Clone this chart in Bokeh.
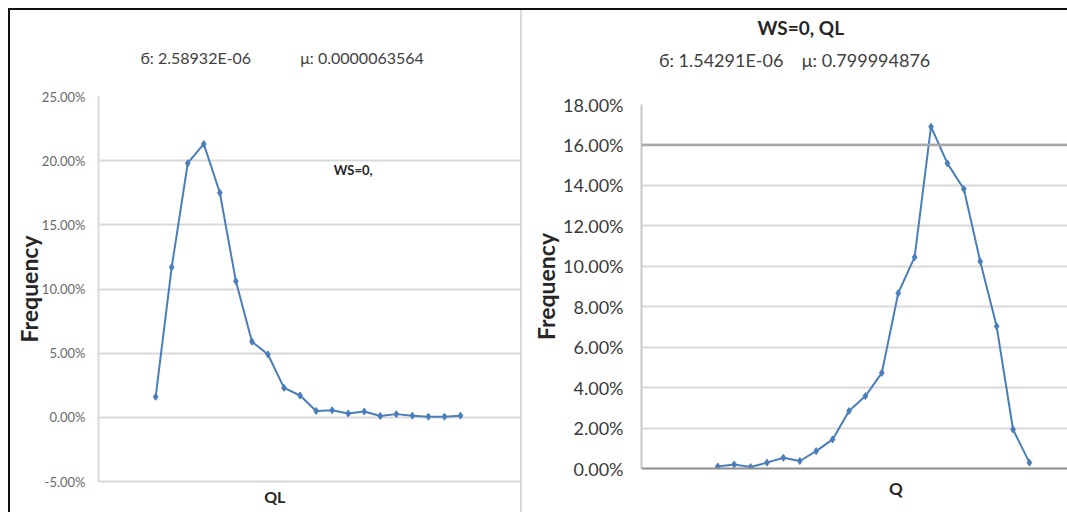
from bokeh.plotting import figure
from bokeh.models import (FixedTicker, NumeralTickFormatter, Label, Span,
                          Spacer, Range1d, LinearAxis)
from bokeh.layouts import row, column
from bokeh.embed import file_html
from bokeh.resources import INLINE

# ---------------- data ----------------
bins = list(range(1, 21))
left_freq = [0.016, 0.117, 0.198, 0.213, 0.175, 0.106, 0.059, 0.049, 0.023, 0.017,
             0.005, 0.0055, 0.003, 0.0045, 0.001, 0.0025, 0.0013, 0.0005, 0.0005, 0.0013]
right_freq = [0.0010, 0.0020, 0.0007, 0.0029, 0.0053, 0.0037, 0.0086, 0.0144, 0.0284, 0.0358,
              0.0473, 0.0867, 0.1045, 0.1690, 0.1509, 0.1382, 0.1024, 0.0703, 0.0193, 0.0029]
left_ticks = [-0.05, 0.0, 0.05, 0.10, 0.15, 0.20, 0.25]
right_ticks = [0.0, 0.02, 0.04, 0.06, 0.08, 0.10, 0.12, 0.14, 0.16, 0.18]
left_stats = "б: 2.58932E-06" + "\u00a0" * 12 + "μ: 0.0000063564"
right_title = "WS=0, QL"
right_stats = "б: 1.54291E-06" + "\u00a0" * 4 + "μ: 0.799994876"
left_note = "WS=0,"
left_xlabel = "QL"
right_xlabel = "Q"

FONT = "Lato"
BLUE = "#4a7ebb"
GRID = "#d9d9d9"
NB = "\u00a0"


def style_common(p):
    p.outline_line_color = None
    p.background_fill_color = "white"
    p.border_fill_color = "white"
    p.frame_align = False
    for ax in (p.xaxis, p.yaxis):
        ax.major_tick_out = 0
        ax.major_tick_in = 0
        ax.minor_tick_out = 0
        ax.minor_tick_in = 0
        ax.axis_line_width = 2
        ax.axis_label_text_font = FONT
        ax.axis_label_text_font_style = "bold"
        ax.axis_label_text_color = "#262626"
    p.xaxis.ticker = FixedTicker(ticks=[])
    p.xaxis.major_label_standoff = 0
    p.xaxis.major_label_text_font_size = "0px"
    p.yaxis.formatter = NumeralTickFormatter(format="0.00%")
    p.yaxis.major_label_text_font = FONT
    p.yaxis.axis_label = "Frequency"
    p.yaxis.axis_label_text_font_size = "23px"
    p.xgrid.grid_line_color = None
    p.ygrid.grid_line_color = GRID
    p.ygrid.grid_line_width = 2


# ---------------- left chart ----------------
p1 = figure(width=510, height=502, output_backend="svg", toolbar_location=None,
            x_range=Range1d(-2.563, 23.738), y_range=Range1d(-0.05, 0.25),
            min_border_left=88, min_border_right=0, min_border_top=86, min_border_bottom=31)
style_common(p1)
p1.line(bins, left_freq, line_color=BLUE, line_width=2)
p1.scatter(bins, left_freq, marker="diamond", size=7, color=BLUE)

p1.yaxis.ticker = FixedTicker(ticks=left_ticks)
p1.yaxis.major_label_standoff = 13
p1.yaxis.major_label_text_font_size = "13px"
p1.yaxis.major_label_text_color = "#6a6a6a"
p1.yaxis.axis_label_standoff = -4
p1.yaxis.axis_line_color = GRID
p1.xaxis.axis_line_color = GRID
p1.xaxis.axis_label = left_xlabel + NB * 18
p1.xaxis.axis_label_text_font_size = "16px"
p1.xaxis.axis_label_standoff = 5

p1.title.text = left_stats
p1.title.align = "left"
p1.title.offset = 42
p1.title.standoff = 59
p1.title.text_font = FONT
p1.title.text_font_size = "16px"
p1.title.text_font_style = "normal"
p1.title.text_color = "#3f3f3f"

p1.add_layout(Label(x=12.1, y=0.193, text=left_note, text_font=FONT, text_font_size="13px",
                    text_font_style="bold", text_color="#262626",
                    text_align="left", text_baseline="middle"))

# ---------------- right chart ----------------
p2 = figure(width=545, height=502, output_backend="svg", toolbar_location=None,
            x_range=Range1d(-3.65, 22.32), y_range=Range1d(0, 0.18),
            min_border_left=119, min_border_right=0, min_border_top=93, min_border_bottom=44)
style_common(p2)
p2.add_layout(Span(location=0.16, dimension="width", line_color="#a8a8a8", line_width=2.5))
p2.line(bins, right_freq, line_color=BLUE, line_width=2)
p2.scatter(bins, right_freq, marker="diamond", size=7, color=BLUE)

p2.yaxis.ticker = FixedTicker(ticks=right_ticks)
p2.yaxis.major_label_standoff = 18
p2.yaxis.major_label_text_font_size = "18px"
p2.yaxis.major_label_text_color = "#3a3a3a"
p2.yaxis.axis_label_standoff = 0
p2.yaxis.axis_line_color = "#c8c8c8"
p2.xaxis.axis_line_color = "#8c8c8c"
p2.xaxis.axis_label = NB * 20 + right_xlabel
p2.xaxis.axis_label_text_font_size = "17px"
p2.xaxis.axis_label_standoff = 9

# statistics line: label of an empty axis above the frame (trailing spaces shift it left)
stats_axis = LinearAxis(ticker=FixedTicker(ticks=[]), axis_line_color=None,
                        major_tick_out=0, major_tick_in=0, minor_tick_out=0, minor_tick_in=0,
                        major_label_standoff=0, major_label_text_font_size="0px",
                        axis_label=right_stats + NB * 26,
                        axis_label_standoff=34, axis_label_text_font=FONT,
                        axis_label_text_font_size="18px", axis_label_text_font_style="normal",
                        axis_label_text_color="#3f3f3f")
p2.add_layout(stats_axis, "above")

p2.title.text = right_title
p2.title.align = "left"
p2.title.offset = 116
p2.title.standoff = 10
p2.title.vertical_align = "top"
p2.title.text_font = FONT
p2.title.text_font_size = "19px"
p2.title.text_font_style = "bold"
p2.title.text_color = "#262626"

# ---------------- frame lines & layout ----------------
top_row = row(Spacer(width=8, height=2),
              Spacer(width=1059, height=2, styles={"background-color": "#111111"}))
main_row = row(Spacer(width=8, height=502),
               Spacer(width=2, height=502, styles={"background-color": "#111111"}),
               p1,
               Spacer(width=2, height=502, styles={"background-color": GRID}),
               p2)
layout = column(Spacer(width=1067, height=8), top_row, main_row)

open("out.html", "w").write(file_html(layout, INLINE))
